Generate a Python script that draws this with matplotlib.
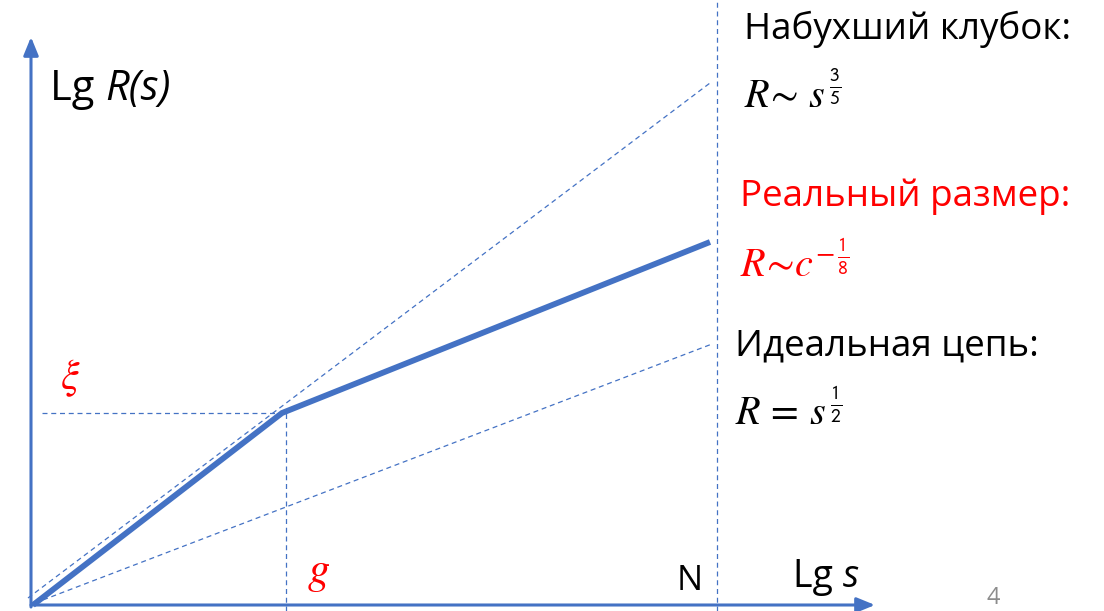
import matplotlib.pyplot as plt
import matplotlib as mpl

mpl.rcParams['mathtext.fontset'] = 'custom'
mpl.rcParams['mathtext.rm'] = 'Open Sans'
mpl.rcParams['mathtext.it'] = 'Open Sans:italic'

BLUE = '#4472C4'
RED = '#FF0000'

# schematic log-log coordinates, origin at the axes crossing
lg_s_curve = [0, 249, 677]        # real chain: swollen blobs then ideal
lg_R_curve = [0, 192, 363]
swollen_x = [-5, 677]             # R ~ s^(3/5)
swollen_y = [7, 522]
ideal_x = [2, 679]                # R = s^(1/2)
ideal_y = [2, 261]
g_blob = 253
xi_blob = 192
N_chain = 684


def label_with_italic(ax, x, y, plain, italic, size):
    # "Lg" upright followed by an italic variable
    t = ax.text(x, y, plain + ' ', fontsize=size, family='Open Sans',
                va='baseline')
    ax.annotate(italic, xy=(1, 0), xycoords=t, va='bottom', ha='left',
                fontsize=size, family='Open Sans', style='italic')


def main():
    fig = plt.figure(figsize=(11.04, 6.11), dpi=100)
    ax = fig.add_axes([0, 0, 1, 1])
    ax.set_xlim(-33, 1071)
    ax.set_ylim(-6, 605)
    ax.axis('off')

    dash = dict(color=BLUE, lw=0.9, dashes=(4, 3))

    # axes with arrow heads
    arrow = dict(arrowstyle='-|>,head_length=1.1,head_width=0.45',
                 color=BLUE, lw=2.2, shrinkA=0, shrinkB=0)
    ax.annotate('', xy=(-2, 568), xytext=(-2, -2), arrowprops=arrow)
    ax.annotate('', xy=(842, 0), xytext=(-2, 0), arrowprops=arrow)

    # guide lines
    ax.plot(swollen_x, swollen_y, **dash)
    ax.plot(ideal_x, ideal_y, **dash)
    ax.plot([N_chain, N_chain], [-6, 605], **dash)
    ax.plot([g_blob, g_blob], [-6, xi_blob], **dash)
    ax.plot([9, g_blob], [xi_blob, xi_blob], **dash)

    # actual size curve
    ax.plot(lg_s_curve, lg_R_curve, color=BLUE, lw=4.2,
            solid_capstyle='butt', solid_joinstyle='miter')

    sans = dict(family='Open Sans', va='center')
    label_with_italic(ax, 17, 505, 'Lg', 'R(s)', 30)
    label_with_italic(ax, 760, 18, 'Lg', 's', 27)
    ax.text(657, 24, 'N', fontsize=25, ha='center', **sans)
    ax.text(960, 7, '4', fontsize=17, color='#8C8C8C', ha='center', **sans)

    ax.text(37, 227, r'$\xi$', fontsize=30, color=RED, ha='center',
            va='center', math_fontfamily='stix')
    ax.text(285, 32, r'$g$', fontsize=32, color=RED, ha='center',
            va='center', math_fontfamily='stix')

    ax.text(711, 576, 'Набухший клубок:', fontsize=26.5, **sans)
    ax.text(711, 510, r'$R\!\sim\, s^{\,\frac{\mathsf{3}}{\mathsf{5}}}$',
            fontsize=29, va='center', math_fontfamily='stix')
    ax.text(707, 408, 'Реальный размер:', fontsize=26.5, color=RED, **sans)
    ax.text(707, 340, r'$R\!\sim\! c^{-\,\frac{\mathsf{1}}{\mathsf{8}}}$',
            fontsize=29, color=RED, va='center', math_fontfamily='stix')
    ax.text(702, 259, 'Идеальная цепь:', fontsize=26.5, **sans)
    ax.text(702, 192, r'$R\,=\,s^{\,\frac{\mathsf{1}}{\mathsf{2}}}$',
            fontsize=29, va='center', math_fontfamily='stix')

    fig.savefig('out.png', dpi=100)


if __name__ == '__main__':
    main()
